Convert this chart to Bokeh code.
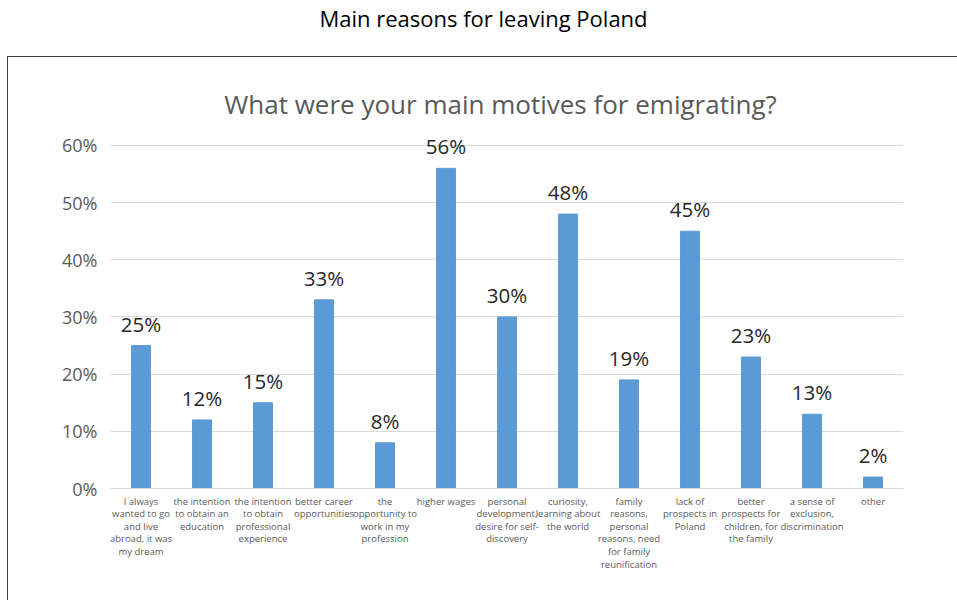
from bokeh.plotting import figure
from bokeh.models import ColumnDataSource, LabelSet, Label, NumeralTickFormatter, FixedTicker, Range1d
from bokeh.core.properties import value
from bokeh.embed import file_html
from bokeh.resources import INLINE

categories = [
    "I always\nwanted to go\nand live\nabroad, it was\nmy dream",
    "the intention\nto obtain an\neducation",
    "the intention\nto obtain\nprofessional\nexperience",
    "better career\nopportunities",
    "the\nopportunity to\nwork in my\nprofession",
    "higher wages",
    "personal\ndevelopment,\ndesire for self-\ndiscovery",
    "curiosity,\nlearning about\nthe world",
    "family\nreasons,\npersonal\nreasons, need\nfor family\nreunification",
    "lack of\nprospects in\nPoland",
    "better\nprospects for\nchildren, for\nthe family",
    "a sense of\nexclusion,\ndiscrimination",
    "other",
]
values = [0.25, 0.12, 0.15, 0.33, 0.08, 0.56, 0.30, 0.48, 0.19, 0.45, 0.23, 0.13, 0.02]
labels = ["25%", "12%", "15%", "33%", "8%", "56%", "30%", "48%", "19%", "45%", "23%", "13%", "2%"]
y_ticks = [0, 0.1, 0.2, 0.3, 0.4, 0.5, 0.6]

FONT = "Open Sans"
GRAY = "#595959"

src = ColumnDataSource(dict(cat=categories, val=values, lab=labels))

# frame spans the full height above the axis so the titles are inside it
p = figure(x_range=categories, y_range=Range1d(0, 0.8536), width=957, height=600,
           output_backend="svg", toolbar_location=None,
           min_border_left=110, min_border_right=54, min_border_top=0, min_border_bottom=112)
p.vbar(x="cat", top="val", width=0.31, source=src, color="#5B9BD5")

p.add_layout(LabelSet(x="cat", y="val", text="lab", source=src, text_align="center",
                      text_baseline="bottom", y_offset=8, text_font_size="20.5px",
                      text_font=value(FONT), text_color="#262626"))

p.yaxis.ticker = FixedTicker(ticks=y_ticks)
p.yaxis.formatter = NumeralTickFormatter(format="0%")
p.yaxis.axis_line_color = None
p.yaxis.major_tick_line_color = None
p.yaxis.minor_tick_line_color = None
p.yaxis.major_label_text_font_size = "18px"
p.yaxis.major_label_text_color = GRAY
p.yaxis.major_label_text_font = FONT
p.yaxis.major_label_standoff = 7

p.xaxis.axis_line_color = "#D9D9D9"
p.xaxis.major_tick_line_color = None
p.xaxis.minor_tick_line_color = None
p.xaxis.major_label_text_font_size = "9.5px"
p.xaxis.major_label_text_color = GRAY
p.xaxis.major_label_text_font = FONT
p.xaxis.major_label_standoff = 0
p.xaxis.major_label_text_line_height = 0.97

p.xgrid.grid_line_color = None
p.ygrid.grid_line_color = "#D9D9D9"
p.outline_line_color = None

# outer box (left and top edges visible) drawn as CSS background behind transparent canvas
p.border_fill_color = None
p.background_fill_color = None
p.styles = {
    "background": "linear-gradient(#404040,#404040) 7px 56px / 1px 544px no-repeat, "
                  "linear-gradient(#404040,#404040) 7px 56px / 950px 1px no-repeat, #ffffff"
}

p.add_layout(Label(x=483, y=17, x_units="canvas", y_units="canvas",
                   text="Main reasons for leaving Poland", text_align="center",
                   text_baseline="middle", text_font=FONT, text_font_size="22px",
                   text_color="#000000"))
p.add_layout(Label(x=500, y=103, x_units="canvas", y_units="canvas",
                   text="What were your main motives for emigrating?", text_align="center",
                   text_baseline="middle", text_font=FONT, text_font_size="26px",
                   text_color=GRAY))

open("out.html", "w").write(file_html(p, INLINE))
